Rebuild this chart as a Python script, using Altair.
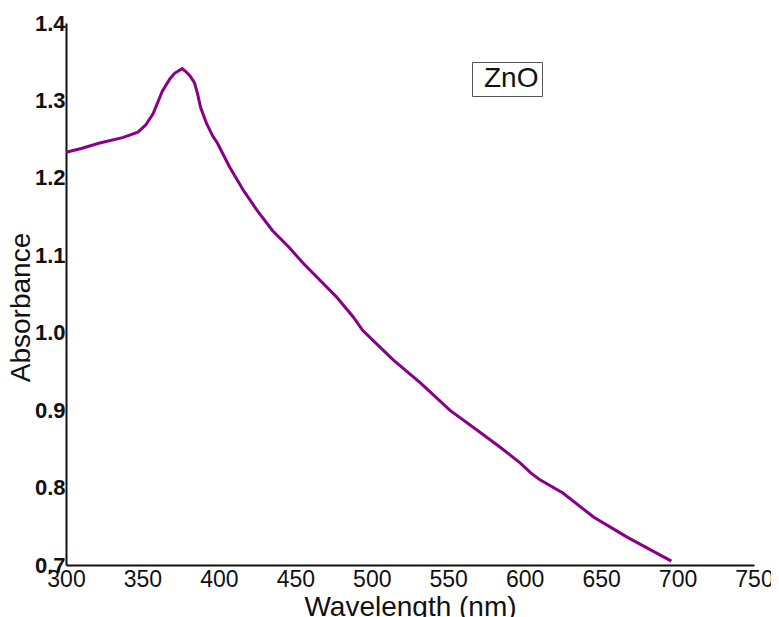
import altair as alt
import pandas as pd

wavelength = [300, 310, 322, 337, 347, 352, 357, 363, 368, 371, 376, 378, 381, 384, 386, 388,
              392, 396, 399, 407, 416, 425, 435, 446, 455, 466, 477, 488, 494, 503, 514, 532,
              551, 569, 584, 597, 604, 610, 625, 645, 667, 696]
absorbance = [1.233, 1.238, 1.245, 1.252, 1.259, 1.268, 1.283, 1.312, 1.328, 1.335, 1.341, 1.338,
              1.332, 1.323, 1.309, 1.291, 1.270, 1.254, 1.245, 1.214, 1.184, 1.158, 1.132, 1.110,
              1.090, 1.068, 1.046, 1.020, 1.003, 0.986, 0.965, 0.935, 0.900, 0.874, 0.852, 0.832,
              0.819, 0.810, 0.793, 0.762, 0.736, 0.705]
series = ["ZnO"] * len(wavelength)

x_ticks = [300, 350, 400, 450, 500, 550, 600, 650, 700, 750]
y_ticks = [0.7, 0.8, 0.9, 1.0, 1.1, 1.2, 1.3, 1.4]

df = pd.DataFrame({"wavelength": wavelength, "absorbance": absorbance, "sample": series})

FONT = "Liberation Sans"

chart = alt.Chart(df).mark_line(strokeWidth=3).encode(
    x=alt.X("wavelength:Q",
            scale=alt.Scale(domain=[300, 750], nice=False, zero=False),
            axis=alt.Axis(values=x_ticks, title="Wavelength (nm)", grid=False, ticks=False,
                          domainColor="#111", domainWidth=2, labelFont=FONT, labelFontSize=23,
                          labelFontWeight="normal", labelColor="#111", labelPadding=3,
                          labelOverlap=False, labelFlush=False,
                          titleFont=FONT, titleFontSize=28, titleFontWeight="normal",
                          titleColor="#111", titlePadding=2)),
    y=alt.Y("absorbance:Q",
            scale=alt.Scale(domain=[0.7, 1.4], nice=False, zero=False),
            axis=alt.Axis(values=y_ticks, format=".1f", title="Absorbance", grid=False, ticks=False,
                          domainColor="#111", domainWidth=2, labelFont=FONT, labelFontSize=22,
                          labelFontWeight="bold", labelColor="#111", labelPadding=1,
                          labelOverlap=False, labelFlush=False,
                          titleFont=FONT, titleFontSize=28, titleFontWeight="normal",
                          titleColor="#111", titlePadding=-1, titleY=284)),
    color=alt.Color("sample:N", scale=alt.Scale(range=["#880088"]),
                    legend=alt.Legend(title=None, orient="none", legendX=406, legendY=39,
                                      symbolType="circle", symbolSize=0, symbolStrokeWidth=0,
                                      symbolOpacity=0, labelOffset={"expr": "-19"},
                                      labelFont=FONT, labelFontSize=28, labelColor="#111",
                                      padding=3, strokeColor="#555", fillColor="white")),
).properties(
    width=688,
    height=542,
    autosize=alt.AutoSizeParams(type="none"),
    padding={"left": 58, "top": 15, "right": 17, "bottom": 60},
).configure(background="white").configure_view(strokeWidth=0)

chart.save("out.html", embed_options={"renderer": "svg", "actions": False})
